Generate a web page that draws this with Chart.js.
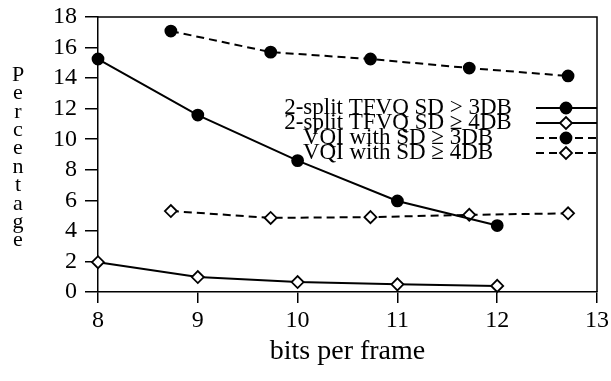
<!DOCTYPE html>
<html>
<head>
<meta charset="utf-8">
<script src="https://cdn.jsdelivr.net/npm/chart.js@4.4.1/dist/chart.umd.min.js"></script>
<style>
  html, body { margin: 0; padding: 0; background: #fff; }
  #wrap { width: 611px; height: 381px; position: relative; }
</style>
</head>
<body>
<div id="wrap"><canvas id="sdChart"></canvas></div>
<script>
// =================== DATA ===================
const tfvqBits = [8, 9, 10, 11, 12];
const tfvq3DB = [15.25, 11.58, 8.6, 5.96, 4.35];
const tfvq4DB = [1.95, 0.98, 0.65, 0.5, 0.4];

const vqiBits = [8.73, 9.73, 10.73, 11.72, 12.71];
const vqi3DB = [17.08, 15.7, 15.25, 14.66, 14.14];
const vqi4DB = [5.3, 4.85, 4.9, 5.05, 5.15];

const seriesLabels = [
  "2-split TFVQ SD > 3DB",
  "2-split TFVQ SD \u2265 4DB",
  "VQI with SD \u2265 3DB",
  "VQI with SD \u2265 4DB"
];

const xTicks = [8, 9, 10, 11, 12, 13];
const yTicks = [0, 2, 4, 6, 8, 10, 12, 14, 16, 18];
const xTitle = "bits per frame";
const yTitle = "Percentage";

// =================== HELPERS ===================
const FONT = "'Liberation Serif', 'DejaVu Serif', serif";
const toPoints = (xs, ys) => xs.map((x, i) => ({ x, y: ys[i] }));

function makeSet(label, xs, ys, dashed, filled) {
  return {
    label,
    data: toPoints(xs, ys),
    borderColor: "#000",
    borderWidth: 2,
    borderDash: dashed ? [8, 5] : [],
    tension: 0,
    pointStyle: filled ? "circle" : "rectRot",
    pointRadius: filled ? 5.5 : 6,
    pointBackgroundColor: filled ? "#000" : "#fff",
    pointBorderColor: "#000",
    pointBorderWidth: 1.8,
    clip: false
  };
}

// frame on top and right, stacked y title, legend inside the plot
const framePlugin = {
  id: "frame",
  afterDraw(chart) {
    const { ctx, chartArea: a } = chart;
    ctx.save();
    ctx.strokeStyle = "#000";
    ctx.lineWidth = 1.5;
    ctx.beginPath();
    ctx.moveTo(a.left, a.top);
    ctx.lineTo(a.right, a.top);
    ctx.lineTo(a.right, a.bottom);
    ctx.stroke();

    // y title, one letter per row
    ctx.fillStyle = "#000";
    ctx.font = "22px " + FONT;
    ctx.textAlign = "center";
    ctx.textBaseline = "middle";
    yTitle.split("").forEach((ch, i) => ctx.fillText(ch, 18, 75 + i * 18.4));

    // legend
    ctx.font = "23px " + FONT;
    chart.data.datasets.forEach((ds, i) => {
      const y = 108 + i * 15;
      ctx.fillStyle = "#000";
      ctx.fillText(ds.label, 398, y);
      ctx.setLineDash(ds.borderDash);
      ctx.lineWidth = ds.borderWidth;
      ctx.beginPath();
      ctx.moveTo(536, y);
      ctx.lineTo(a.right, y);
      ctx.stroke();
      ctx.setLineDash([]);
      ctx.lineWidth = ds.pointBorderWidth;
      ctx.fillStyle = ds.pointBackgroundColor;
      Chart.helpers.drawPoint(ctx, {
        pointStyle: ds.pointStyle, radius: ds.pointRadius, rotation: 0, borderWidth: ds.pointBorderWidth
      }, 566, y);
    });
    ctx.restore();
  }
};

// =================== CHART ===================
const ctx = document.getElementById("sdChart").getContext("2d");
const sdChart = new Chart(ctx, {
  type: "line",
  data: {
    datasets: [
      makeSet(seriesLabels[0], tfvqBits, tfvq3DB, false, true),
      makeSet(seriesLabels[1], tfvqBits, tfvq4DB, false, false),
      makeSet(seriesLabels[2], vqiBits, vqi3DB, true, true),
      makeSet(seriesLabels[3], vqiBits, vqi4DB, true, false)
    ]
  },
  options: {
    responsive: true,
    maintainAspectRatio: false,
    animation: false,
    layout: { padding: { top: 17, right: 14, left: 0, bottom: 0 } },
    plugins: { legend: { display: false }, tooltip: { enabled: false } },
    scales: {
      x: {
        type: "linear",
        min: xTicks[0],
        max: xTicks[xTicks.length - 1],
        afterBuildTicks: (s) => { s.ticks = xTicks.map(v => ({ value: v })); },
        afterFit: (s) => { s.height = 89; s.paddingLeft = 0; s.paddingRight = 0; },
        grid: { drawOnChartArea: false, tickLength: 11, color: "#000", lineWidth: 1.5 },
        border: { color: "#000", width: 1.5 },
        ticks: { color: "#000", padding: 3, maxRotation: 0, autoSkip: false, font: { family: FONT, size: 24 } },
        title: { display: true, text: xTitle, color: "#000", padding: { top: 0, bottom: 13 }, font: { family: FONT, size: 28 } }
      },
      y: {
        min: yTicks[0],
        max: yTicks[yTicks.length - 1],
        afterBuildTicks: (s) => { s.ticks = yTicks.map(v => ({ value: v })); },
        afterFit: (s) => { s.width = 98; s.paddingTop = 0; s.paddingBottom = 0; },
        grid: { drawOnChartArea: false, tickLength: 13, color: "#000", lineWidth: 1.5 },
        border: { color: "#000", width: 1.5 },
        ticks: { color: "#000", padding: 8, autoSkip: false, font: { family: FONT, size: 24 } }
      }
    }
  },
  plugins: [framePlugin]
});
</script>
</body>
</html>
